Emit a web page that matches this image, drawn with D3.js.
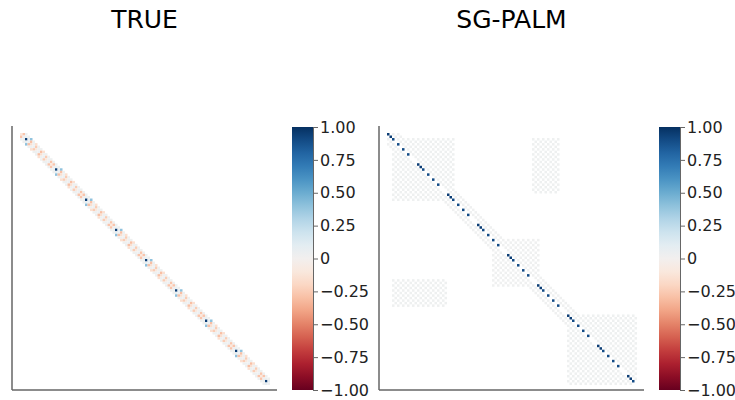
<!DOCTYPE html>
<html>
<head>
<meta charset="utf-8">
<script src="https://cdn.jsdelivr.net/npm/d3@7"></script>
<style>
  body { margin: 0; background: #fff; }
  svg { display: block; }
</style>
</head>
<body>
<script>
// matrix size and the block length seen along the diagonal
var N = 100;
var BLOCK = 12;

var titles = ["TRUE", "SG-PALM"];
var colorTicks = [1, 0.75, 0.5, 0.25, 0, -0.25, -0.5, -0.75, -1];

// TRUE: values on each band (offset from the diagonal), one block, repeated down the diagonal
var trueOffsets = [0, 1, 2];
var trueBand0 = [-0.1, 0.04, 0.95, 0.04, -0.15, 0.04, -0.1, 0.04, -0.15, 0.04, -0.1, 0.04];
var trueBand1 = [-0.28, 0.03, 0.08, -0.3, 0.03, -0.25, 0.03, -0.3, 0.03, -0.25, 0.03, -0.28];
var trueBand2 = [0.03, 0.03, 0.4, 0.03, -0.15, 0.03, 0.03, -0.15, 0.03, 0.03, 0.03, 0.03];

// SG-PALM: diagonal values in one block, and faint patches [row0,row1,col0,col1,value]
var sgDiag = [0.95, 0.95, 0.9, 0, 0.9, 0, 0.9, 0, 0.9, 0, 0, 0];
var sgPatches = [
  [2, 26, 2, 26, 0.03],
  [2, 23, 58, 68, 0.03],
  [58, 68, 2, 23, 0.03],
  [42, 60, 42, 60, 0.025],
  [72, 99, 72, 99, 0.03]
];
var sgBandWidth = 4;
var sgBandValue = 0.025;

function buildTrue() {
  var m = d3.range(N).map(function() { return d3.range(N).map(function() { return 0; }); });
  var bands = [trueBand0, trueBand1, trueBand2];
  trueOffsets.forEach(function(k, j) {
    for (var i = 0; i + k < N; i++) {
      var v = bands[j][i % BLOCK];
      m[i][i + k] = v;
      m[i + k][i] = v;
    }
  });
  return m;
}

function buildSG() {
  var m = d3.range(N).map(function() { return d3.range(N).map(function() { return 0; }); });
  for (var i = 0; i < N; i++) {
    for (var k = 1; k <= sgBandWidth; k++) {
      if (i + k < N && k % 2 === 0) { m[i][i + k] = sgBandValue; m[i + k][i] = sgBandValue; }
    }
  }
  sgPatches.forEach(function(p) {
    for (var r = p[0]; r <= p[1]; r++) {
      for (var c = p[2]; c <= p[3]; c++) {
        if ((c - r + 200) % 2 === 0) m[r][c] = p[4];
      }
    }
  });
  for (var i = 0; i < N; i++) m[i][i] = sgDiag[i % BLOCK];
  return m;
}

var color = function(v) { return d3.interpolateRdBu((v + 1) / 2); };

var svg = d3.select("body").append("svg")
    .attr("width", 735)
    .attr("height", 400);

var panels = [
  { title: titles[0], data: buildTrue(), frameX: 12, heatX: 20, barX: 292 },
  { title: titles[1], data: buildSG(), frameX: 379, heatX: 387, barX: 659 }
];

var frameTop = 126, frameBottom = 390, frameW = 265;
var heatTop = 133, heatSize = 250;
var barTop = 127, barW = 21;

// gradient for the colour bars
var grad = svg.append("defs").append("linearGradient")
    .attr("id", "rdbu")
    .attr("x1", 0).attr("y1", 1).attr("x2", 0).attr("y2", 0);
grad.selectAll("stop")
    .data(d3.range(0, 1.0001, 0.05))
    .enter()
    .append("stop")
    .attr("offset", function(d) { return d; })
    .attr("stop-color", function(d) { return d3.interpolateRdBu(d); });

panels.forEach(function(p) {
  var g = svg.append("g");

  g.append("text")
      .text(p.title)
      .attr("x", p.frameX + frameW / 2)
      .attr("y", 28)
      .attr("text-anchor", "middle")
      .attr("font-family", "DejaVu Sans, sans-serif")
      .attr("font-size", "25px")
      .attr("fill", "#000");

  var x = d3.scaleBand().domain(d3.range(N)).range([p.heatX, p.heatX + heatSize]);
  var y = d3.scaleBand().domain(d3.range(N)).range([heatTop, heatTop + heatSize + 2]);

  var cells = [];
  p.data.forEach(function(row, r) {
    row.forEach(function(v, c) {
      if (v !== 0) cells.push({ r: r, c: c, v: v });
    });
  });

  g.selectAll("rect.cell")
      .data(cells)
      .enter()
      .append("rect")
      .attr("class", "cell")
      .attr("x", function(d) { return x(d.c); })
      .attr("y", function(d) { return y(d.r); })
      .attr("width", x.bandwidth())
      .attr("height", y.bandwidth())
      .attr("fill", function(d) { return color(d.v); });

  // left and bottom spines
  g.append("line")
      .attr("x1", p.frameX).attr("x2", p.frameX)
      .attr("y1", frameTop).attr("y2", frameBottom)
      .attr("stroke", "#666").attr("stroke-width", 1.5);
  g.append("line")
      .attr("x1", p.frameX).attr("x2", p.frameX + frameW)
      .attr("y1", frameBottom).attr("y2", frameBottom)
      .attr("stroke", "#666").attr("stroke-width", 1.5);

  // colour bar
  g.append("rect")
      .attr("x", p.barX)
      .attr("y", barTop)
      .attr("width", barW)
      .attr("height", frameBottom - barTop)
      .attr("fill", "url(#rdbu)");

  var cs = d3.scaleLinear().domain([-1, 1]).range([frameBottom, barTop]);
  var axis = d3.axisRight(cs)
      .tickValues(colorTicks)
      .tickSize(5)
      .tickSizeOuter(0)
      .tickPadding(2)
      .tickFormat(function(d) { return d === 0 ? "0" : d3.format(".2f")(d); });

  var ag = g.append("g")
      .attr("transform", "translate(" + (p.barX + barW) + ",0)")
      .call(axis);
  ag.select(".domain").attr("stroke", "#666");
  ag.selectAll(".tick line").attr("stroke", "#666");
  ag.selectAll("text")
      .attr("font-family", "DejaVu Sans, sans-serif")
      .attr("font-size", "16px")
      .attr("fill", "#222");
});
</script>
</body>
</html>
